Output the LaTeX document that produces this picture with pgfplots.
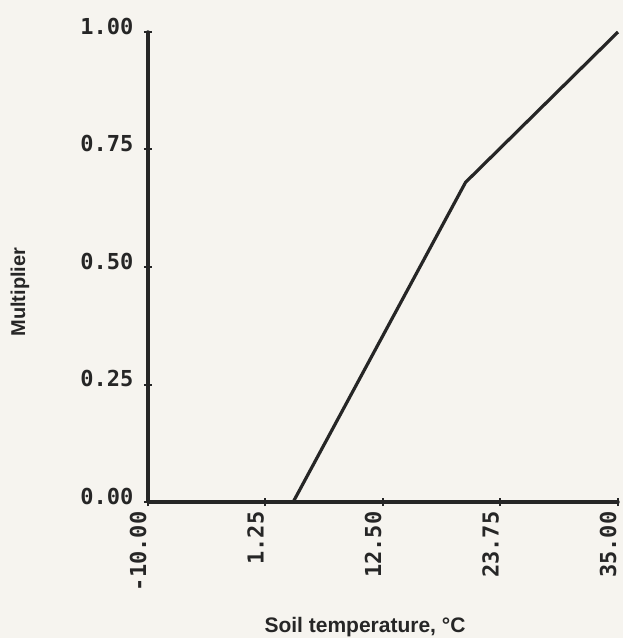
\documentclass[border=0pt]{standalone}
\usepackage{pgfplots}
\pgfplotsset{compat=1.18}
\usepackage{fontspec}
\setmainfont{Liberation Sans}
\setmonofont{DejaVu Sans Mono}
\definecolor{paper}{RGB}{246,244,239}
\definecolor{ink}{RGB}{38,38,38}
\begin{document}
\begin{tikzpicture}
\fill[paper] (-148pt,-136pt) rectangle (475pt,502pt);
\useasboundingbox (-148pt,-136pt) rectangle (475pt,502pt);
\begin{axis}[
  at={(0,0)}, anchor=south west,
  scale only axis, width=470pt, height=470pt,
  xmin=-10, xmax=35, ymin=0, ymax=1,
  axis lines=left,
  axis line style={draw=ink, line width=3.5pt, -},
  xtick={-10,1.25,12.5,23.75,35},
  xticklabels={-10.00,1.25,12.50,23.75,35.00},
  ytick={0,0.25,0.5,0.75,1},
  yticklabels={0.00,0.25,0.50,0.75,1.00},
  tick align=center,
  major tick length=8pt,
  tick style={ink, line width=2pt},
  ticklabel style={font=\ttfamily\bfseries\fontsize{22}{25}\selectfont, text=ink},
  yticklabel style={anchor=east, xshift=-7pt, yshift=6pt},
  xticklabel style={rotate=90, anchor=east, yshift=10pt, xshift=-2pt},
  clip=false,
]
\draw[ink, line width=3.5pt, line cap=round, line join=round] (rel axis cs:0,1) -- (rel axis cs:0,0) -- (rel axis cs:1,0);
\addplot[ink, line width=3.2pt] coordinates {(-10,0) (3.9,0) (20.4,0.68) (35,1)};
\end{axis}
\node[rotate=90, font=\bfseries\fontsize{20}{24}\selectfont, text=ink] at (-128pt,210pt) {Multiplier};
\node[font=\bfseries\fontsize{21}{24}\selectfont, text=ink] at (217pt,-125pt) {Soil temperature, °C};
\end{tikzpicture}
\end{document}
